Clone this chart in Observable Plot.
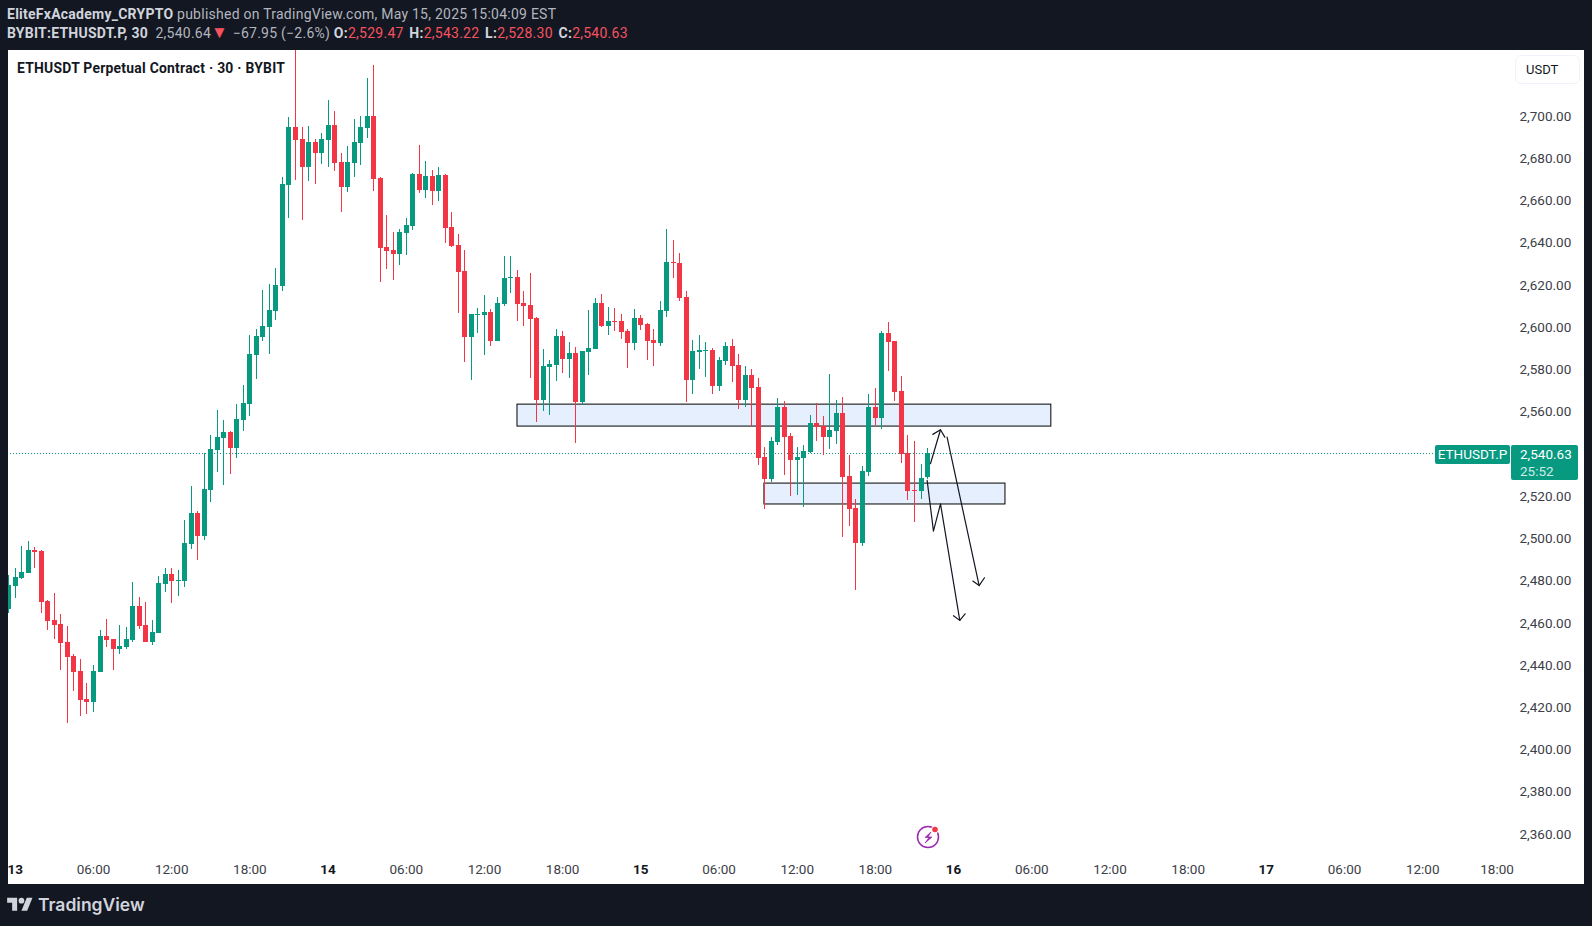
<!DOCTYPE html>
<html><head><meta charset="utf-8">
<script src="https://cdn.jsdelivr.net/npm/d3@7"></script>
<script src="https://cdn.jsdelivr.net/npm/@observablehq/plot@0.6"></script>
<style>
html,body{margin:0;padding:0;background:#131722;width:1592px;height:926px;overflow:hidden;font-family:"Roboto",sans-serif}
.abs{position:absolute;white-space:pre}
#chart{position:absolute;left:8px;top:50px;width:1576px;height:834px;overflow:hidden;background:#fff}
#chart svg{overflow:hidden}
.hd{font-size:14px;color:#b2b5be;letter-spacing:.25px}
.hd b{color:#d1d4dc;font-weight:700}
.hd b.k{margin-left:2px}
.hd i{font-style:normal;color:#f7525f}
</style></head><body>
<div class="abs hd" style="left:7px;top:6px"><b>EliteFxAcademy_CRYPTO</b> published on TradingView.com, May 15, 2025 15:04:09 EST</div>
<div class="abs hd" style="left:7px;top:25px"><b>BYBIT:ETHUSDT.P, 30</b>  2,540.64<span style="color:#f7525f;font-size:17px;line-height:14px">▼ </span>−67.95 (−2.6%) <b>O:</b><i>2,529.47</i> <b class="k">H:</b><i>2,543.22</i> <b class="k">L:</b><i>2,528.30</i> <b class="k">C:</b><i>2,540.63</i></div>
<div id="chart"></div>
<div class="abs" style="left:17px;top:60px;font-size:13.9px;letter-spacing:.25px;font-weight:700;color:#131722">ETHUSDT Perpetual Contract · 30 · BYBIT</div>
<div class="abs" style="left:1515px;top:55px;width:53px;height:27px;line-height:27px;padding-left:10px;border:1px solid #f0f3fa;border-radius:6px;text-align:left;font-size:13px;color:#131722;box-sizing:content-box;background:#fff">USDT</div>
<div class="abs" style="left:1435px;top:445px;width:75px;height:19px;line-height:19px;background:#089981;color:#fff;font-size:13.5px;text-align:center;border-radius:2px">ETHUSDT.P</div>
<div class="abs" style="left:1511px;top:445px;width:67px;height:35px;background:#089981;color:#fff;font-size:13.5px;text-align:left;padding-left:9px;border-radius:2px;line-height:17px;padding-top:1px;box-sizing:border-box">2,540.63<br><span style="color:#cdebe5">25:52</span></div>
<svg class="abs" style="left:916px;top:825px" width="26" height="26" viewBox="0 0 26 26">
<circle cx="12" cy="12" r="10.5" fill="#fff" stroke="#9c27b0" stroke-width="1.5"/>
<path d="M15 7 L9 12.5 L13 12.5 L9 18 L16 12 L12 12 Z" fill="#9c27b0" stroke="#9c27b0" stroke-width=".7"/>
<circle cx="19" cy="4.5" r="3.8" fill="#fff"/><circle cx="19" cy="4.5" r="2.8" fill="#f23645"/></svg>
<svg class="abs" style="left:7px;top:895px" width="26" height="20" viewBox="0 0 36 28"><path fill="#d1d4dc" d="M14 22H7V11H0V4h14v18zM28 22h-8l7.5-18h8L28 22z"/><circle fill="#d1d4dc" cx="20" cy="8" r="4"/></svg>
<div class="abs" style="left:38px;top:894px;font-size:17.5px;font-weight:600;color:#d1d4dc;font-family:Inter,Roboto,sans-serif">TradingView</div>
<script>
const opens=[2466.9,2477.8,2481.6,2484.0,2494.9,2494.4,2470.7,2461.7,2459.8,2451.3,
2444.7,2437.5,2424.3,2422.9,2437.1,2454.1,2452.7,2448.0,2448.9,2452.2,
2468.6,2459.4,2451.3,2455.6,2478.8,2483.5,2480.2,2480.2,2497.7,2512.4,
2501.6,2523.3,2542.2,2547.9,2550.8,2543.2,2556.4,2564.0,2587.3,2595.8,
2600.5,2608.1,2619.9,2667.8,2695.3,2689.6,2676.3,2688.2,2682.9,2689.1,
2696.2,2678.7,2666.8,2678.2,2687.7,2694.8,2700.5,2671.1,2638.4,2637.0,
2635.1,2645.0,2648.4,2673.0,2665.4,2672.0,2664.9,2672.5,2647.9,2639.4,
2627.0,2595.8,2606.2,2606.2,2607.6,2593.9,2611.4,2623.7,2624.2,2611.9,
2610.9,2604.8,2565.9,2581.6,2582.5,2596.3,2585.4,2588.2,2565.0,2588.7,
2590.1,2611.9,2601.0,2603.3,2603.3,2598.6,2592.9,2604.8,2601.9,2594.4,
2592.9,2608.1,2631.3,2630.8,2614.7,2575.4,2588.7,2589.2,2589.6,2572.6,
2584.4,2591.5,2582.5,2565.9,2577.8,2572.1,2539.0,2528.5,2546.0,2562.6,
2548.9,2537.5,2538.5,2541.3,2555.0,2553.6,2548.4,2551.3,2559.8,2529.9,
2514.8,2498.2,2531.8,2562.6,2557.4,2597.7,2593.9,2570.2,2540.8,2523.3,
2522.8,2529.47];
const closes=[2478.3,2482.1,2484.5,2494.9,2493.9,2470.3,2461.3,2459.4,2450.8,2444.2,
2437.1,2423.8,2422.9,2437.5,2454.1,2452.2,2448.0,2449.4,2452.7,2468.6,
2458.9,2451.3,2456.0,2479.2,2483.5,2480.2,2480.7,2498.2,2512.4,2501.6,
2523.8,2542.7,2548.4,2550.8,2543.2,2556.9,2564.5,2587.7,2596.3,2601.0,
2608.6,2620.4,2668.2,2695.3,2689.1,2676.3,2688.2,2682.9,2689.6,2696.2,
2678.2,2666.8,2678.7,2688.2,2695.3,2700.5,2670.6,2637.9,2636.5,2635.1,
2645.5,2648.8,2673.0,2665.4,2672.0,2664.9,2672.5,2647.4,2638.9,2626.6,
2595.8,2606.7,2606.7,2607.6,2593.9,2611.9,2623.7,2624.2,2611.4,2610.4,
2604.3,2565.9,2582.0,2583.0,2596.3,2585.4,2588.2,2565.0,2589.2,2590.6,
2611.9,2601.0,2603.3,2602.9,2598.2,2592.9,2604.8,2601.5,2593.9,2592.9,
2608.6,2631.3,2630.8,2614.3,2575.4,2589.2,2589.6,2589.6,2572.6,2584.9,
2591.5,2582.0,2565.9,2577.8,2571.6,2538.5,2528.5,2546.5,2562.6,2548.4,
2537.5,2539.0,2541.8,2555.0,2553.1,2548.4,2551.7,2559.8,2529.5,2514.3,
2498.2,2532.3,2562.6,2557.4,2597.7,2593.4,2569.7,2540.4,2522.8,2522.8,
2529.0,2540.63];
const highs=[2483.0,2486.4,2496.8,2499.1,2496.3,2494.9,2471.2,2474.5,2464.6,2458.9,
2445.6,2443.3,2431.9,2440.4,2457.0,2462.2,2452.7,2459.4,2458.4,2479.7,
2472.6,2470.3,2461.7,2482.6,2486.4,2486.4,2485.4,2509.1,2525.2,2513.4,
2540.8,2549.4,2561.2,2556.4,2551.3,2564.0,2573.0,2596.7,2599.6,2618.0,
2620.9,2628.4,2671.6,2700.0,2735.0,2695.3,2695.7,2689.6,2692.4,2708.1,
2702.8,2682.9,2686.3,2699.1,2700.5,2718.5,2724.6,2671.6,2653.6,2645.5,
2646.9,2652.2,2673.5,2686.7,2679.2,2674.9,2676.3,2673.0,2655.0,2644.6,
2637.0,2606.7,2609.5,2615.7,2609.1,2614.7,2634.2,2634.2,2627.5,2617.6,
2626.1,2605.3,2590.1,2584.9,2599.6,2598.6,2593.4,2591.0,2589.2,2608.6,
2614.3,2616.1,2610.0,2609.5,2606.7,2599.6,2609.1,2606.2,2602.4,2599.6,
2612.8,2646.9,2641.7,2635.6,2617.6,2594.4,2596.7,2593.4,2590.6,2586.3,
2593.4,2594.8,2587.7,2582.0,2580.6,2576.4,2543.7,2548.4,2566.9,2565.5,
2550.3,2543.7,2544.6,2558.8,2564.5,2558.4,2578.3,2565.9,2567.4,2539.9,
2519.0,2534.7,2568.8,2571.6,2598.6,2602.9,2593.9,2577.3,2549.4,2546.5,
2535.6,2543.22];
const lows=[2465.0,2472.1,2481.2,2484.0,2486.4,2465.0,2457.0,2452.7,2438.0,2412.9,
2428.1,2416.2,2417.2,2418.1,2437.1,2448.9,2438.0,2445.6,2448.0,2451.3,
2457.5,2451.3,2449.9,2455.6,2475.0,2469.8,2473.1,2477.4,2495.4,2490.2,
2499.6,2517.6,2531.8,2525.7,2530.9,2538.5,2551.3,2558.4,2575.9,2593.9,
2587.7,2603.8,2617.6,2652.2,2670.2,2651.2,2669.7,2668.2,2677.7,2676.3,
2674.4,2655.0,2664.4,2671.6,2677.3,2690.0,2664.9,2621.8,2628.0,2622.8,
2629.9,2634.6,2646.5,2664.0,2661.6,2658.3,2660.2,2640.3,2638.4,2607.2,
2583.9,2575.4,2597.7,2587.3,2591.5,2593.9,2610.4,2616.6,2603.3,2601.0,
2576.4,2555.5,2560.7,2558.8,2574.9,2578.7,2576.4,2545.6,2563.6,2577.8,
2590.1,2600.5,2596.7,2598.6,2594.8,2581.1,2589.6,2599.1,2584.9,2582.0,
2591.5,2605.3,2623.7,2612.8,2565.0,2568.8,2580.6,2576.8,2568.8,2570.2,
2582.5,2574.5,2561.7,2562.6,2553.6,2535.1,2514.3,2527.1,2544.6,2530.4,
2520.5,2520.9,2515.3,2540.8,2546.5,2539.9,2542.7,2545.1,2501.0,2506.3,
2475.9,2496.8,2529.9,2554.1,2552.2,2579.7,2565.5,2536.1,2518.6,2508.1,
2519.0,2528.30];

const lastPrice=2540.63;
const priceTicks=[2700,2680,2660,2640,2620,2600,2580,2560,2520,2500,2480,2460,2440,2420,2400,2380,2360];
const timeTicks=[13,25,37,61,73,85,109,121,133,157,169,181,205,217,228.4];
const timeLabels=["06:00","12:00","18:00","06:00","12:00","18:00","06:00","12:00","18:00","06:00","12:00","18:00","06:00","12:00","18:00"];
const dayTicks=[1,49,97,145,193];
const dayLabels=["13","14","15","16","17"];

const zones=[{x1:78.07,x2:160.0,y1:2564.0,y2:2553.6},{x1:115.97,x2:152.96,y1:2526.6,y2:2516.7}];
const arrowSeries=[
 [[141.45,2536.0],[142.99,2552.1]],
 [[141.81,2549.9],[142.99,2552.1],[143.65,2548.6]],
 [[144.0,2548.6],[148.92,2478.3]],
 [[147.95,2480.4],[148.92,2478.3],[149.74,2482.0]],
 [[140.94,2528.1],[141.91,2504.1],[142.99,2517.0],[145.95,2461.8]],
 [[144.98,2464.0],[145.95,2461.8],[146.77,2464.9]]
];
const arrows=arrowSeries.flatMap((s,k)=>s.map(([i,p])=>({k,i,p})));
const candles=opens.map((o,i)=>({i,o,c:closes[i],h:highs[i],l:lows[i],col:closes[i]>=o?"#089981":"#f23645"}));

const plot=Plot.plot({
  width:1576,height:834,
  marginTop:0,marginLeft:0,marginRight:65,marginBottom:25,
  style:{background:"#fff",fontFamily:"Roboto, sans-serif",fontSize:"13px",color:"#131722"},
  x:{domain:[0,240],range:[0.3,1564.1],axis:null},
  y:{domain:[2700,2360],range:[67,784.8],axis:null},
  marks:[
    Plot.ruleY([lastPrice],{x1:-2,x2:218.9,y:d=>d,stroke:"#089981",strokeWidth:1,strokeDasharray:"1,2",shapeRendering:"crispEdges"}),
    Plot.rect(zones,{x1:"x1",x2:"x2",y1:"y1",y2:"y2",fill:"#e6effd",stroke:"#000",strokeWidth:1}),
    Plot.ruleX(candles,{x:"i",y1:"l",y2:"h",stroke:"col",strokeWidth:1,shapeRendering:"crispEdges"}),
    Plot.ruleX(candles,{x:"i",y1:"o",y2:"c",stroke:"col",strokeWidth:5,shapeRendering:"crispEdges"}),
    Plot.line(arrows,{x:"i",y:"p",z:"k",stroke:"#131722",strokeWidth:1.2,curve:"linear"}),
    Plot.axisY({ticks:priceTicks,anchor:"right",tickSize:0,tickPadding:0,dy:-1,tickFormat:d3.format(",.2f"),fontSize:13.5,fill:"#3c4048"}),
    Plot.axisX({ticks:timeTicks,anchor:"bottom",tickSize:0,tickPadding:4.5,tickFormat:d=>timeLabels[timeTicks.indexOf(d)],fontSize:13.5,fill:"#3c4048"}),
    Plot.axisX({ticks:dayTicks,anchor:"bottom",tickSize:0,tickPadding:4.5,tickFormat:d=>dayLabels[dayTicks.indexOf(d)],fontSize:13.5,fontWeight:700,fill:"#131722"})
  ]
});
document.getElementById("chart").appendChild(plot);
</script>
</body></html>
